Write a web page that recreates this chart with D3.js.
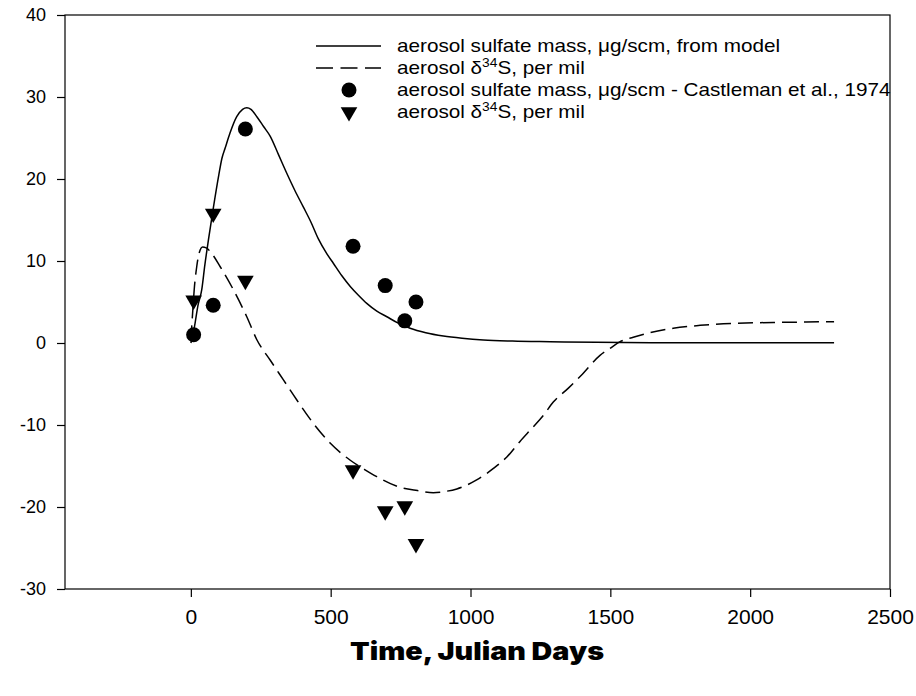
<!DOCTYPE html>
<html>
<head>
<meta charset="utf-8">
<script src="https://cdn.jsdelivr.net/npm/d3@7"></script>
<style>
  html, body { margin: 0; padding: 0; background: #fff; }
  svg { display: block; }
</style>
</head>
<body>
<div id="app"></div>
<script>
// model curve, aerosol sulfate mass (ug/scm)
const sulfateModelDays = [0, 5, 15, 25, 39, 50, 63, 81, 100, 111, 123, 140, 164, 185, 200, 215, 236, 260, 284, 313, 343, 372, 402, 430, 456, 486, 510, 540, 570, 600, 629, 665, 701, 740, 784, 840, 903, 970, 1046, 1150, 1285, 1450, 1700, 2000, 2300];
const sulfateModel = [0, 0.5, 2.4, 4.5, 6.5, 9.5, 12.6, 16.6, 20.5, 22.5, 23.8, 25.6, 27.6, 28.5, 28.7, 28.5, 27.6, 26.4, 25.2, 23.0, 20.7, 18.6, 16.6, 14.7, 12.7, 10.9, 9.7, 8.2, 6.9, 5.8, 4.84, 3.9, 3.2, 2.45, 1.8, 1.25, 0.85, 0.58, 0.37, 0.24, 0.16, 0.08, 0.04, 0.02, 0.02];

// model curve, aerosol d34S (per mil)
const deltaModelDays = [0, 7, 12, 21, 30, 42, 55, 75, 105, 152, 200, 236, 284, 331, 379, 438, 498, 570, 620, 665, 748, 810, 867, 910, 951, 1022, 1082, 1130, 1177, 1225, 1261, 1296, 1350, 1400, 1463, 1499, 1535, 1582, 1642, 1725, 1821, 1940, 2119, 2300];
const deltaModel = [0.3, 4, 6.5, 9.3, 11, 11.7, 11.6, 10.9, 9.3, 6.5, 3.2, 0.4, -2.1, -4.5, -6.95, -9.8, -12.2, -14.3, -15.4, -16.3, -17.6, -18.0, -18.25, -18.1, -17.8, -16.7, -15.3, -13.9, -12.0, -10.2, -8.8, -7.2, -5.5, -3.8, -1.5, -0.65, 0.16, 0.7, 1.26, 1.8, 2.15, 2.4, 2.52, 2.6];

// observations, Castleman et al., 1974
const obsDays = [10, 80, 195, 580, 695, 765, 805];
const sulfateObs = [1.0, 4.6, 26.1, 11.8, 7.0, 2.7, 5.0];
const deltaObs = [5.2, 15.8, 7.6, -15.5, -20.5, -19.9, -24.5];

const xTicks = [0, 500, 1000, 1500, 2000, 2500];
const yTicks = [-30, -20, -10, 0, 10, 20, 30, 40];

const conf = {
  width: 916,
  height: 696,
  left: 65, right: 890, top: 15, bottom: 589
};

const svg = d3.select('#app').append('svg')
  .attr('width', conf.width)
  .attr('height', conf.height);

const x = d3.scaleLinear()
  .domain([-450, 2500])
  .range([conf.left, conf.right]);

const y = d3.scaleLinear()
  .domain([-30, 40])
  .range([conf.bottom, conf.top]);

// frame
svg.append('rect')
  .attr('x', conf.left)
  .attr('y', conf.top)
  .attr('width', conf.right - conf.left)
  .attr('height', conf.bottom - conf.top)
  .attr('fill', 'none')
  .attr('stroke', '#000')
  .attr('stroke-width', 1.2);

// axes
const yAxis = svg.append('g')
  .attr('transform', `translate(${conf.left},0)`)
  .call(d3.axisLeft(y).tickValues(yTicks).tickSize(8).tickPadding(11).tickFormat(d => String(d)));

yAxis.select('.domain').remove();
yAxis.selectAll('line').attr('stroke-width', 1.2);
yAxis.selectAll('text')
  .attr('font-family', '"Liberation Sans", Arial, sans-serif')
  .attr('font-size', 18)
  .attr('fill', '#000');

const xAxis = svg.append('g')
  .attr('transform', `translate(0,${conf.bottom})`)
  .call(d3.axisBottom(x).tickValues(xTicks).tickSize(8).tickPadding(12).tickFormat(d => String(d)));

xAxis.select('.domain').remove();
xAxis.selectAll('line').attr('stroke-width', 1.2);
xAxis.selectAll('text')
  .attr('font-family', '"Liberation Sans", Arial, sans-serif')
  .attr('font-size', 21)
  .attr('fill', '#000');

svg.append('text')
  .attr('x', 477)
  .attr('y', 660)
  .attr('text-anchor', 'middle')
  .attr('font-family', 'Inter, "DejaVu Sans", sans-serif')
  .attr('font-weight', 900)
  .attr('font-size', 25)
  .attr('textLength', 254)
  .attr('lengthAdjust', 'spacingAndGlyphs')
  .text('Time, Julian Days');

// model lines
const line = d3.line()
  .x(d => x(d[0]))
  .y(d => y(d[1]))
  .curve(d3.curveMonotoneX);

const plot = svg.append('g');

plot.append('path')
  .datum(d3.zip(sulfateModelDays, sulfateModel))
  .attr('d', line)
  .attr('fill', 'none')
  .attr('stroke', '#000')
  .attr('stroke-width', 1.5);

plot.append('path')
  .datum(d3.zip(deltaModelDays, deltaModel))
  .attr('d', line)
  .attr('fill', 'none')
  .attr('stroke', '#000')
  .attr('stroke-width', 1.5)
  .attr('stroke-dasharray', '15,7');

// observations
const tri = d3.symbol().type(d3.symbolTriangle).size(120);

plot.selectAll('.obsMass')
  .data(d3.zip(obsDays, sulfateObs))
  .enter()
  .append('circle')
  .attr('class', 'obsMass')
  .attr('cx', d => x(d[0]))
  .attr('cy', d => y(d[1]))
  .attr('r', 7.5)
  .attr('fill', '#000');

plot.selectAll('.obsDelta')
  .data(d3.zip(obsDays, deltaObs))
  .enter()
  .append('path')
  .attr('class', 'obsDelta')
  .attr('d', tri)
  .attr('transform', d => `translate(${x(d[0])},${y(d[1])}) rotate(180)`)
  .attr('fill', '#000');

// legend
const legend = svg.append('g')
  .attr('font-family', '"Liberation Sans", Arial, sans-serif')
  .attr('font-size', 18)
  .attr('fill', '#000');

const rows = [46, 68, 90, 112];

legend.append('line')
  .attr('x1', 316).attr('x2', 381)
  .attr('y1', rows[0]).attr('y2', rows[0])
  .attr('stroke', '#000').attr('stroke-width', 1.5);

legend.append('line')
  .attr('x1', 316).attr('x2', 381)
  .attr('y1', rows[1]).attr('y2', rows[1])
  .attr('stroke', '#000').attr('stroke-width', 1.5)
  .attr('stroke-dasharray', '17,7.5');

legend.append('circle')
  .attr('cx', 349).attr('cy', rows[2]).attr('r', 7.5);

legend.append('path')
  .attr('d', tri)
  .attr('transform', `translate(349,${rows[3]}) rotate(180)`);

const legendText = (yy) => legend.append('text')
  .attr('transform', `translate(397,${yy + 6}) scale(1.15,1)`);

const addDeltaLabel = (yy) => {
  const t = legendText(yy);
  t.append('tspan').text('aerosol δ');
  t.append('tspan').attr('font-size', 12).attr('dy', -7).text('34');
  t.append('tspan').attr('dy', 7).text('S, per mil');
};

legendText(rows[0]).text('aerosol sulfate mass, μg/scm, from model');
addDeltaLabel(rows[1]);
legendText(rows[2]).text('aerosol sulfate mass, μg/scm - Castleman et al., 1974');
addDeltaLabel(rows[3]);
</script>
</body>
</html>
